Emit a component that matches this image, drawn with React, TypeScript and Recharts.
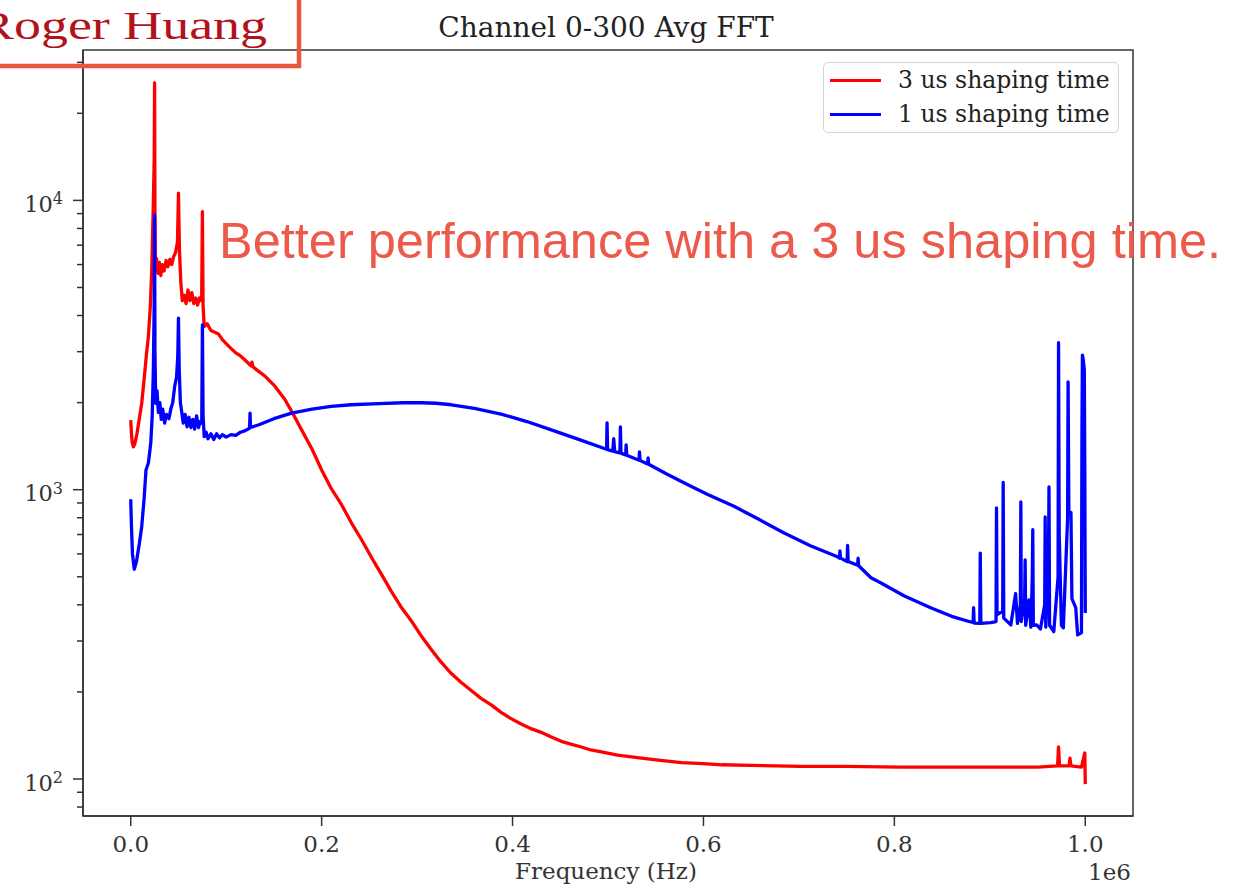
import React from "react";
import { LineChart, Line, XAxis, YAxis, Legend, ReferenceArea } from "recharts";

// 3 us shaping time: [frequency Hz, amplitude]
const shaping3us: [number, number][] = [
  [0, 1740], [800, 1560], [1600, 1450], [2800, 1406], [4500, 1450], [6500, 1560],
  [9000, 1760], [11500, 1990], [14000, 2400], [16500, 2950], [18500, 3390], [20500, 4300],
  [22000, 5750], [23700, 9800], [24600, 14000], [25000, 25500], [25400, 9000], [25900, 5900],
  [27000, 6300], [28500, 5600], [30000, 6100], [31500, 5500], [33000, 6000], [35000, 5700],
  [37000, 6200], [39000, 5900], [41000, 6250], [43000, 6000], [45000, 6400], [47000, 6600],
  [49000, 7200], [50000, 10600], [51000, 6800], [52500, 5200], [54000, 4500], [56000, 4700],
  [58000, 4400], [60000, 4900], [62000, 4500], [64000, 4800], [66000, 4400], [68000, 4600],
  [70000, 4350], [72000, 4600], [74300, 4500], [75100, 9150], [75800, 4300], [77000, 3660],
  [80000, 3750], [84000, 3550], [88000, 3500], [92000, 3450], [96000, 3300], [100000, 3200],
  [105000, 3080], [110000, 2970], [115000, 2900], [120000, 2800], [126000, 2680], [127000, 2760],
  [128000, 2660], [133000, 2580], [140000, 2480], [150000, 2300], [161500, 2050], [170000, 1830],
  [179000, 1610], [190000, 1380], [200000, 1170], [210000, 1010], [221000, 886], [231000, 770],
  [242000, 670], [252000, 585], [263000, 508], [273000, 445], [284000, 390], [295000, 348],
  [305000, 310], [315000, 280], [325000, 254], [335000, 233], [346000, 216], [357000, 202],
  [367000, 190], [378000, 180], [388000, 170], [398000, 162], [409000, 155], [420000, 149],
  [430000, 145], [440000, 140], [451000, 135], [461000, 132], [472000, 129], [482000, 126],
  [493000, 124], [510000, 121], [535000, 118], [555000, 116], [577000, 114], [600000, 113],
  [619000, 112], [650000, 111.5], [702000, 110.5], [750000, 110.5], [807000, 110], [860000, 110],
  [912000, 110], [950000, 110], [971000, 111], [972000, 129], [973000, 111], [983000, 111],
  [984000, 118], [985000, 111], [996000, 110], [999500, 123], [1000000, 96],
];

// 1 us shaping time: [frequency Hz, amplitude]
const shaping1us: [number, number][] = [
  [0, 927], [700, 760], [1800, 600], [3700, 531], [6000, 565], [9000, 650], [11500, 745],
  [14000, 930], [16000, 1170], [18500, 1237], [21000, 1450], [22500, 1800], [23700, 2595],
  [24600, 4500], [25000, 8910], [25400, 3000], [26200, 1990], [27500, 2200], [29000, 1850],
  [30500, 2000], [32000, 1750], [33500, 1900], [35500, 1700], [37500, 1820], [40000, 1760],
  [42000, 1900], [44000, 2000], [46000, 2270], [48000, 2450], [49300, 2900], [50000, 3920],
  [50800, 2600], [52000, 2000], [53500, 1850], [55000, 1700], [57000, 1820], [59000, 1650],
  [61000, 1780], [63000, 1640], [65000, 1750], [67000, 1620], [69000, 1800], [71000, 1640],
  [73000, 1720], [74400, 1700], [75100, 3710], [75800, 1800], [77000, 1525], [79000, 1580],
  [81000, 1500], [84000, 1560], [87000, 1490], [90000, 1560], [93000, 1510], [96000, 1550],
  [100000, 1520], [105000, 1550], [110000, 1540], [115000, 1580], [120000, 1600], [124500, 1630],
  [125000, 1840], [125500, 1640], [135000, 1680], [150000, 1760], [168500, 1840], [190000, 1900],
  [210000, 1940], [231000, 1966], [260000, 1985], [285000, 1998], [304500, 1998], [320000, 1990],
  [336000, 1966], [360000, 1910], [388000, 1826], [415000, 1720], [440600, 1610], [470000, 1490],
  [498500, 1380], [499000, 1702], [499600, 1375], [505000, 1360], [506000, 1500], [507000, 1355],
  [512500, 1340], [513000, 1650], [513600, 1338], [518500, 1318], [519000, 1428], [519600, 1315],
  [532500, 1265], [533000, 1351], [533600, 1262], [541500, 1228], [542000, 1288], [542600, 1225],
  [560000, 1140], [580000, 1055], [605000, 960], [632000, 876], [658000, 790], [684000, 710],
  [712000, 640], [741000, 585], [742500, 580], [743000, 615], [743600, 580], [750500, 565],
  [751000, 642], [751600, 565], [761500, 548], [762000, 580], [762600, 546], [775500, 496],
  [786000, 476], [810000, 430], [838000, 391], [860000, 365], [880000, 349], [882500, 348],
  [883000, 391], [883600, 346], [889500, 345], [890000, 604], [890600, 345], [901000, 347],
  [906500, 350], [907000, 865], [907600, 370], [913500, 380], [914000, 1060], [914600, 360],
  [922000, 341], [927000, 437], [929000, 345], [932000, 400], [932500, 907], [933000, 350],
  [936500, 420], [937000, 572], [937600, 340], [941000, 416], [943000, 335], [944500, 500],
  [945000, 727], [945600, 340], [949000, 341], [953000, 330], [957500, 400], [958000, 805],
  [958600, 335], [961500, 600], [962000, 1022], [962600, 340], [967000, 323], [971500, 500],
  [972000, 3220], [972700, 700], [975000, 340], [977000, 333], [981500, 800], [982000, 2360],
  [982800, 834], [985000, 834], [986000, 420], [990000, 391], [992000, 315], [996000, 320],
  [996500, 1500], [997000, 2920], [998000, 2800], [999000, 2590], [999500, 1200], [1000000, 375],
];

const xTicks = [0, 200000, 400000, 600000, 800000, 1000000];
const yMajorTicks = [100, 1000, 10000];
const yMinorTicks = [80, 90, 200, 300, 400, 500, 600, 700, 800, 900, 2000, 3000, 4000, 5000,
  6000, 7000, 8000, 9000, 20000, 30000];

const seriesInfo = [
  { name: "3 us shaping time", color: "#ff0000" },
  { name: "1 us shaping time", color: "#0000ff" },
];

const X_DOMAIN = [-50000, 1050000];
const Y_DOMAIN = [74.5, 33100];
const PLOT_LEFT = 83;
const AXIS = "#333";
const SERIF = "DejaVu Serif";

const toRows = (pts: [number, number][]) => pts.map(([f, v]) => ({ f, v }));

const YTick = (props: any) => {
  const { y, payload } = props;
  const v = payload.value;
  const major = yMajorTicks.includes(v);
  return (
    <g>
      <line x1={PLOT_LEFT - (major ? 10 : 6)} x2={PLOT_LEFT} y1={y} y2={y} stroke={AXIS} strokeWidth={1.5} />
      {major && (
        <text x={63} y={y + 11.5} textAnchor="end" fontFamily={SERIF} fill="#333">
          <tspan fontSize={22.5}>10</tspan>
          <tspan fontSize={16} dy={-7.5}>{Math.round(Math.log10(v))}</tspan>
        </text>
      )}
    </g>
  );
};

const XTick = (props: any) => {
  const { x, y, payload } = props;
  return (
    <text x={x} y={y + 24} textAnchor="middle" fontFamily={SERIF} fontSize={23} fill="#333">
      {(payload.value / 1e6).toFixed(1)}
    </text>
  );
};

const LegendBox = () => (
  <div
    style={{
      width: 296, height: 71, boxSizing: "border-box", border: "1.5px solid #d4d4d4",
      borderRadius: 5, background: "#fff", fontFamily: SERIF, fontSize: 23.5, color: "#222",
    }}
  >
    {seriesInfo.map((s) => (
      <div key={s.name} style={{ display: "flex", alignItems: "center", height: 34 }}>
        <div style={{ marginLeft: 6, width: 51, height: 3, background: s.color }} />
        <span style={{ marginLeft: 17, lineHeight: "34px", whiteSpace: "nowrap" }}>{s.name}</span>
      </div>
    ))}
  </div>
);

export default function App() {
  const red = toRows(shaping3us);
  const blue = toRows(shaping1us);
  return (
    <div style={{ position: "absolute", left: 0, top: 0, width: 1242, height: 888, background: "#fff" }}>
      <LineChart width={1242} height={888} margin={{ top: 50, right: 109, bottom: 32, left: 23 }}>
        <XAxis
          dataKey="f" type="number" domain={X_DOMAIN} allowDataOverflow ticks={xTicks} interval={0}
          height={40} tickSize={10} tickLine={{ stroke: AXIS, strokeWidth: 1.5 }}
          axisLine={{ stroke: AXIS, strokeWidth: 1.5 }} tick={<XTick />}
        />
        <YAxis
          scale="log" type="number" domain={Y_DOMAIN} allowDataOverflow
          ticks={[...yMinorTicks, ...yMajorTicks].sort((a, b) => a - b)} interval={0}
          width={60} tickLine={false} axisLine={{ stroke: AXIS, strokeWidth: 1.5 }} tick={<YTick />}
        />
        <Line
          data={red} dataKey="v" name={seriesInfo[0].name} type="linear" stroke={seriesInfo[0].color}
          strokeWidth={3.3} dot={false} isAnimationActive={false} strokeLinejoin="round"
        />
        <Line
          data={blue} dataKey="v" name={seriesInfo[1].name} type="linear" stroke={seriesInfo[1].color}
          strokeWidth={3.3} dot={false} isAnimationActive={false} strokeLinejoin="round"
        />
        <ReferenceArea
          x1={X_DOMAIN[0]} x2={X_DOMAIN[1]} y1={Y_DOMAIN[0]} y2={Y_DOMAIN[1]}
          fill="none" fillOpacity={0} stroke={AXIS} strokeWidth={1.5} ifOverflow="visible"
        />
        <Legend
          layout="vertical" align="center" verticalAlign="middle" content={<LegendBox />}
          wrapperStyle={{ position: "absolute", left: 823, top: 62, width: 296, height: 71 }}
        />
      </LineChart>
      <svg
        width={1242} height={888}
        style={{ position: "absolute", left: 0, top: 0, pointerEvents: "none" }}
      >
        <text x={606} y={37} textAnchor="middle" fontFamily={SERIF} fontSize={28} fill="#222">
          Channel 0-300 Avg FFT
        </text>
        <text x={606} y={879} textAnchor="middle" fontFamily={SERIF} fontSize={23} fill="#333">
          Frequency (Hz)
        </text>
        <text x={1131} y={880} textAnchor="end" fontFamily={SERIF} fontSize={23} fill="#333">
          1e6
        </text>
        <text x={219} y={258} fontFamily="Liberation Sans" fontSize={50.5} fill="#ec5a4b">
          Better performance with a 3 us shaping time.
        </text>
        <rect x={-20} y={-20} width={319} height={86} fill="none" stroke="#e8573e" strokeWidth={4.5} />
        <text
          x={-22} y={39} fontFamily="Liberation Serif" fontSize={41} fill="#b2121c"
          textLength={289} lengthAdjust="spacingAndGlyphs"
        >
          Roger Huang
        </text>
      </svg>
    </div>
  );
}
